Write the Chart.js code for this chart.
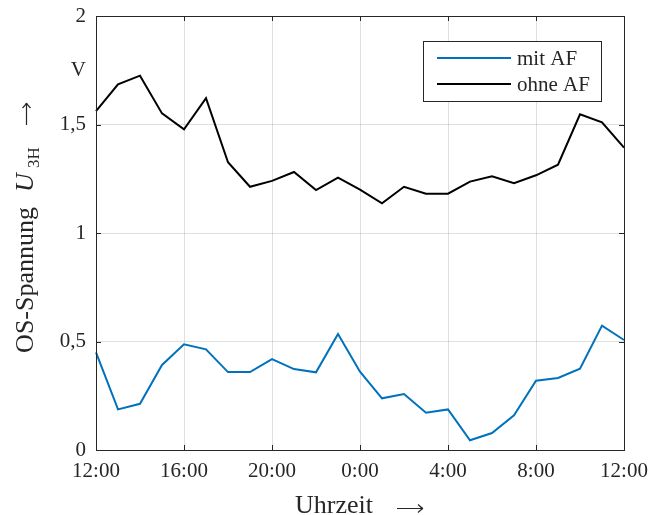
<!DOCTYPE html>
<html>
<head>
<meta charset="utf-8">
<script src="https://cdn.jsdelivr.net/npm/chart.js@4.4.1/dist/chart.umd.min.js"></script>
<style>
  html, body { margin: 0; padding: 0; background: #fff; }
  #wrap { width: 650px; height: 515px; }
</style>
</head>
<body>
<div id="wrap"><canvas id="chart"></canvas></div>
<script>
// hourly samples, 12:00 to 12:00 next day
const timeLabels = [
    '12:00', '13:00', '14:00', '15:00', '16:00', '17:00', '18:00', '19:00',
    '20:00', '21:00', '22:00', '23:00', '0:00', '1:00', '2:00', '3:00',
    '4:00', '5:00', '6:00', '7:00', '8:00', '9:00', '10:00', '11:00', '12:00'
];
const mitAF = [
    0.450, 0.187, 0.213, 0.392, 0.487, 0.464, 0.359, 0.359, 0.419, 0.373, 0.358, 0.535, 0.361,
    0.238, 0.258, 0.172, 0.187, 0.045, 0.078, 0.160, 0.319, 0.332, 0.375, 0.573, 0.507
];
const ohneAF = [
    1.562, 1.685, 1.725, 1.551, 1.478, 1.621, 1.326, 1.213, 1.240, 1.281, 1.198, 1.255, 1.200,
    1.137, 1.213, 1.181, 1.181, 1.237, 1.261, 1.229, 1.266, 1.315, 1.547, 1.510, 1.393
];
const yTickValues = [0, 0.5, 1, 1.5, 2];
const unitTickValue = 1.75;   // where the "V" unit label sits
const seriesNames = ['mit AF', 'ohne AF'];

const colors = {
    mit: '#0072BD',
    ohne: '#000000',
    axis: '#262626',
    grid: 'rgba(38, 38, 38, 0.15)',
    text: '#262626'
};
const FONT = "'Liberation Serif', 'Times New Roman', serif";

// keep the plot box where layout.padding puts it (no label overhang padding)
function noLabelPadding(scale) {
    scale.paddingTop = 0;
    scale.paddingBottom = 0;
    scale.paddingLeft = 0;
    scale.paddingRight = 0;
}

// thin "\rightarrow"-like arrow, drawn along +x from (x0, y)
function drawArrow(ctx, x0, y, len) {
    ctx.beginPath();
    ctx.moveTo(x0, y); ctx.lineTo(x0 + len, y);
    ctx.moveTo(x0 + len - 5, y - 4); ctx.quadraticCurveTo(x0 + len - 2, y - 1, x0 + len, y);
    ctx.moveTo(x0 + len - 5, y + 4); ctx.quadraticCurveTo(x0 + len - 2, y + 1, x0 + len, y);
    ctx.stroke();
}

// box, inner tick marks, legend and axis titles
const decorPlugin = {
    id: 'decor',
    afterDatasetsDraw(chart) {
        const ctx = chart.ctx;
        const a = chart.chartArea;
        const xs = chart.scales.x;
        const ys = chart.scales.y;
        ctx.save();
        ctx.strokeStyle = colors.axis;
        ctx.lineWidth = 1;
        ctx.beginPath();
        xs.ticks.forEach((t, i) => {
            if (i % 4 !== 0) return;
            const x = Math.round(xs.getPixelForTick(i)) + 0.5;
            ctx.moveTo(x, a.bottom); ctx.lineTo(x, a.bottom - 5);
            ctx.moveTo(x, a.top); ctx.lineTo(x, a.top + 5);
        });
        yTickValues.forEach(v => {
            const y = Math.round(ys.getPixelForValue(v)) + 0.5;
            ctx.moveTo(a.left, y); ctx.lineTo(a.left + 5, y);
            ctx.moveTo(a.right, y); ctx.lineTo(a.right - 5, y);
        });
        ctx.stroke();
        ctx.strokeRect(Math.round(a.left) + 0.5, Math.round(a.top) + 0.5,
            Math.round(a.right - a.left), Math.round(a.bottom - a.top));

        // legend
        const lx = 423, ly = 41, lw = 178, lh = 60;
        ctx.fillStyle = '#fff';
        ctx.fillRect(lx, ly, lw, lh);
        ctx.strokeRect(lx + 0.5, ly + 0.5, lw, lh);
        const legendColors = [colors.mit, colors.ohne];
        ctx.font = '21px ' + FONT;
        ctx.textBaseline = 'middle';
        seriesNames.forEach((name, i) => {
            const y = ly + 17 + i * 26;
            ctx.strokeStyle = legendColors[i];
            ctx.lineWidth = 2;
            ctx.beginPath();
            ctx.moveTo(437, y); ctx.lineTo(511, y);
            ctx.stroke();
            ctx.fillStyle = colors.text;
            ctx.fillText(name, 517, y + 1);
        });
        ctx.restore();
    },
    afterDraw(chart) {
        const ctx = chart.ctx;
        ctx.save();
        ctx.fillStyle = colors.text;
        ctx.strokeStyle = colors.text;
        ctx.lineWidth = 1.2;
        ctx.textBaseline = 'alphabetic';

        // x title
        ctx.font = '26px ' + FONT;
        ctx.textAlign = 'left';
        ctx.fillText('Uhrzeit', 295, 513);
        drawArrow(ctx, 397, 508.5, 26);

        // y title, rotated (screen y = -u)
        ctx.translate(33, 0);
        ctx.rotate(-Math.PI / 2);
        ctx.textAlign = 'right';
        ctx.font = '26px ' + FONT;
        ctx.fillText('OS-Spannung', -207, 0);
        ctx.textAlign = 'left';
        ctx.font = 'italic 26px ' + FONT;
        ctx.fillText('U', -192, 0);
        ctx.font = '17px ' + FONT;
        ctx.fillText('3H', -168, 6);
        drawArrow(ctx, -125, -6.5, 22);
        ctx.restore();
    }
};

new Chart(document.getElementById('chart'), {
    type: 'line',
    data: {
        labels: timeLabels,
        datasets: [
            {
                label: seriesNames[0],
                data: mitAF,
                borderColor: colors.mit,
                borderWidth: 2,
                pointRadius: 0,
                tension: 0,
                fill: false
            },
            {
                label: seriesNames[1],
                data: ohneAF,
                borderColor: colors.ohne,
                borderWidth: 2,
                pointRadius: 0,
                tension: 0,
                fill: false
            }
        ]
    },
    options: {
        responsive: true,
        maintainAspectRatio: false,
        animation: false,
        layout: { padding: { top: 16, right: 26, left: 0, bottom: 0 } },
        plugins: {
            legend: { display: false },
            tooltip: { enabled: false }
        },
        scales: {
            x: {
                type: 'category',
                offset: false,
                border: { display: false },
                grid: {
                    drawTicks: false,
                    color: ctx => (ctx.index % 4 === 0 ? colors.grid : 'rgba(0,0,0,0)')
                },
                ticks: {
                    autoSkip: false,
                    maxRotation: 0,
                    padding: 9,
                    color: colors.text,
                    font: { family: FONT, size: 21 },
                    callback: function(value, index) {
                        return index % 4 === 0 ? timeLabels[index] : '';
                    }
                },
                afterFit: scale => { scale.height = 65; noLabelPadding(scale); }
            },
            y: {
                min: 0,
                max: 2,
                border: { display: false },
                afterBuildTicks: scale => {
                    scale.ticks = yTickValues.concat([unitTickValue]).map(v => ({ value: v }));
                },
                grid: {
                    drawTicks: false,
                    color: ctx => (ctx.tick && ctx.tick.value === unitTickValue ? 'rgba(0,0,0,0)' : colors.grid)
                },
                ticks: {
                    padding: 10,
                    color: colors.text,
                    font: { family: FONT, size: 21 },
                    callback: function(value) {
                        if (value === unitTickValue) return 'V';
                        return String(value).replace('.', ',');
                    }
                },
                afterFit: scale => { scale.width = 96; noLabelPadding(scale); }
            }
        }
    },
    plugins: [decorPlugin]
});
</script>
</body>
</html>
